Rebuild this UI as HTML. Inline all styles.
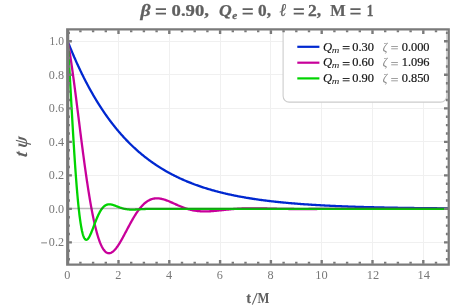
<!DOCTYPE html>
<html><head><meta charset="utf-8"><title>plot</title>
<style>html,body{margin:0;padding:0;background:#fff;}body{width:458px;height:305px;overflow:hidden;font-family:"Liberation Serif",serif;}</style></head>
<body>
<svg width="458" height="305" viewBox="0 0 458 305" style="display:block;will-change:transform" font-family="&quot;Liberation Serif&quot;, serif">
<rect width="458" height="305" fill="#ffffff"/>
<path d="M118.5,29.5 V264.6 M169.5,29.5 V264.6 M220.5,29.5 V264.6 M270.5,29.5 V264.6 M321.5,29.5 V264.6 M372.5,29.5 V264.6 M423.5,29.5 V264.6 M67.7,242.5 H448.5 M67.7,175.5 H448.5 M67.7,141.5 H448.5 M67.7,108.5 H448.5 M67.7,74.5 H448.5 M67.7,41.5 H448.5" stroke="#f0f0f0" stroke-width="1" fill="none"/>
<clipPath id="c"><rect x="67.7" y="29.5" width="380.8" height="235.10000000000002"/></clipPath>
<g clip-path="url(#c)" fill="none" stroke-width="2.3" stroke-linejoin="round" stroke-linecap="butt">
<path d="M67.70,41.30 L67.71,41.33 L67.74,41.41 L67.78,41.50 L67.83,41.62 L67.88,41.76 L67.94,41.91 L68.01,42.08 L68.08,42.26 L68.16,42.46 L68.24,42.68 L68.33,42.90 L68.43,43.14 L68.53,43.39 L68.63,43.65 L68.74,43.92 L68.85,44.21 L68.97,44.50 L69.09,44.80 L69.22,45.12 L69.35,45.44 L69.48,45.77 L69.62,46.11 L69.76,46.46 L69.91,46.82 L70.06,47.19 L70.21,47.56 L70.37,47.94 L70.53,48.33 L70.69,48.73 L70.86,49.13 L71.03,49.54 L71.20,49.96 L71.38,50.39 L71.56,50.82 L71.74,51.26 L71.93,51.70 L72.12,52.15 L72.31,52.61 L72.50,53.07 L72.70,53.54 L72.90,54.01 L73.11,54.49 L73.32,54.98 L73.53,55.47 L73.74,55.96 L73.96,56.46 L74.17,56.97 L74.40,57.48 L74.62,57.99 L74.85,58.51 L75.08,59.04 L75.31,59.56 L75.55,60.10 L75.79,60.63 L76.03,61.17 L76.27,61.72 L76.52,62.26 L76.76,62.82 L77.02,63.37 L77.27,63.93 L77.53,64.49 L77.79,65.06 L78.05,65.63 L78.31,66.20 L78.58,66.78 L78.85,67.35 L79.12,67.94 L79.39,68.52 L79.67,69.11 L79.95,69.70 L80.23,70.29 L80.51,70.88 L80.80,71.48 L81.09,72.08 L81.38,72.68 L81.67,73.28 L81.96,73.89 L82.26,74.50 L82.56,75.11 L82.86,75.72 L83.17,76.33 L83.48,76.94 L83.78,77.56 L84.10,78.18 L84.41,78.80 L84.72,79.42 L85.04,80.04 L85.36,80.67 L85.68,81.29 L86.01,81.92 L86.34,82.54 L86.66,83.17 L87.00,83.80 L87.33,84.43 L87.66,85.06 L88.00,85.69 L88.34,86.32 L88.68,86.96 L89.03,87.59 L89.37,88.23 L89.72,88.86 L90.07,89.49 L90.42,90.13 L90.77,90.77 L91.13,91.40 L91.49,92.04 L91.85,92.67 L92.21,93.31 L92.58,93.95 L92.94,94.58 L93.31,95.22 L93.68,95.85 L94.05,96.49 L94.43,97.13 L94.80,97.76 L95.18,98.40 L95.56,99.03 L95.94,99.66 L96.33,100.30 L96.71,100.93 L97.10,101.56 L97.49,102.20 L97.88,102.83 L98.27,103.46 L98.67,104.09 L99.07,104.72 L99.47,105.35 L99.87,105.98 L100.27,106.60 L100.68,107.23 L101.08,107.85 L101.49,108.48 L101.90,109.10 L102.31,109.72 L102.73,110.34 L103.14,110.96 L103.56,111.58 L103.98,112.20 L104.40,112.81 L104.83,113.43 L105.25,114.04 L105.68,114.65 L106.11,115.26 L106.54,115.87 L106.97,116.48 L107.41,117.09 L107.84,117.69 L108.28,118.30 L108.72,118.90 L109.16,119.50 L109.60,120.10 L110.05,120.69 L110.49,121.29 L110.94,121.88 L111.39,122.47 L111.85,123.06 L112.30,123.65 L112.75,124.24 L113.21,124.82 L113.67,125.40 L114.13,125.99 L114.59,126.56 L115.06,127.14 L115.52,127.72 L115.99,128.29 L116.46,128.86 L116.93,129.43 L117.40,130.00 L117.88,130.56 L118.35,131.13 L118.83,131.69 L119.31,132.25 L119.79,132.80 L120.27,133.36 L120.76,133.91 L121.24,134.46 L121.73,135.01 L122.22,135.55 L122.71,136.10 L123.20,136.64 L123.70,137.18 L124.19,137.71 L124.69,138.25 L125.19,138.78 L125.69,139.31 L126.19,139.84 L126.70,140.37 L127.20,140.89 L127.71,141.41 L128.22,141.93 L128.73,142.44 L129.24,142.96 L129.75,143.47 L130.27,143.98 L130.79,144.49 L131.31,144.99 L131.83,145.49 L132.35,145.99 L132.87,146.49 L133.39,146.98 L133.92,147.47 L134.45,147.96 L134.98,148.45 L135.51,148.94 L136.04,149.42 L136.58,149.90 L137.11,150.37 L137.65,150.85 L138.19,151.32 L138.73,151.79 L139.27,152.26 L139.81,152.72 L140.36,153.18 L140.91,153.64 L141.45,154.10 L142.00,154.56 L142.55,155.01 L143.11,155.46 L143.66,155.91 L144.22,156.35 L144.77,156.79 L145.33,157.23 L145.89,157.67 L146.46,158.10 L147.02,158.53 L147.58,158.96 L148.15,159.39 L148.72,159.81 L149.29,160.24 L149.86,160.66 L150.43,161.07 L151.00,161.49 L151.58,161.90 L152.16,162.31 L152.73,162.71 L153.31,163.12 L153.89,163.52 L154.48,163.92 L155.06,164.31 L155.65,164.71 L156.23,165.10 L156.82,165.49 L157.41,165.88 L158.00,166.26 L158.60,166.64 L159.19,167.02 L159.79,167.40 L160.38,167.77 L160.98,168.14 L161.58,168.51 L162.18,168.88 L162.79,169.24 L163.39,169.60 L164.00,169.96 L164.61,170.32 L165.21,170.67 L165.82,171.03 L166.44,171.38 L167.05,171.72 L167.66,172.07 L168.28,172.41 L168.90,172.75 L169.52,173.09 L170.14,173.42 L170.76,173.75 L171.38,174.08 L172.00,174.41 L172.63,174.74 L173.26,175.06 L173.89,175.38 L174.52,175.70 L175.15,176.02 L175.78,176.33 L176.41,176.64 L177.05,176.95 L177.69,177.26 L178.32,177.56 L178.96,177.87 L179.61,178.17 L180.25,178.46 L180.89,178.76 L181.54,179.05 L182.18,179.34 L182.83,179.63 L183.48,179.92 L184.13,180.20 L184.78,180.49 L185.44,180.77 L186.09,181.04 L186.75,181.32 L187.40,181.59 L188.06,181.86 L188.72,182.13 L189.39,182.40 L190.05,182.67 L190.71,182.93 L191.38,183.19 L192.05,183.45 L192.71,183.70 L193.38,183.96 L194.05,184.21 L194.73,184.46 L195.40,184.71 L196.08,184.96 L196.75,185.20 L197.43,185.44 L198.11,185.68 L198.79,185.92 L199.47,186.16 L200.15,186.39 L200.84,186.62 L201.52,186.85 L202.21,187.08 L202.90,187.31 L203.59,187.53 L204.28,187.76 L204.97,187.98 L205.66,188.19 L206.36,188.41 L207.06,188.63 L207.75,188.84 L208.45,189.05 L209.15,189.26 L209.85,189.47 L210.56,189.67 L211.26,189.88 L211.96,190.08 L212.67,190.28 L213.38,190.48 L214.09,190.68 L214.80,190.87 L215.51,191.07 L216.22,191.26 L216.94,191.45 L217.65,191.64 L218.37,191.82 L219.09,192.01 L219.81,192.19 L220.53,192.37 L221.25,192.55 L221.97,192.73 L222.70,192.91 L223.42,193.08 L224.15,193.25 L224.88,193.43 L225.61,193.60 L226.34,193.76 L227.07,193.93 L227.80,194.10 L228.54,194.26 L229.28,194.42 L230.01,194.58 L230.75,194.74 L231.49,194.90 L232.23,195.06 L232.97,195.21 L233.72,195.37 L234.46,195.52 L235.21,195.67 L235.95,195.82 L236.70,195.97 L237.45,196.11 L238.20,196.26 L238.96,196.40 L239.71,196.54 L240.46,196.68 L241.22,196.82 L241.98,196.96 L242.74,197.10 L243.49,197.23 L244.26,197.36 L245.02,197.50 L245.78,197.63 L246.55,197.76 L247.31,197.89 L248.08,198.01 L248.85,198.14 L249.62,198.26 L250.39,198.39 L251.16,198.51 L251.93,198.63 L252.71,198.75 L253.48,198.87 L254.26,198.99 L255.04,199.10 L255.81,199.22 L256.60,199.33 L257.38,199.44 L258.16,199.56 L258.94,199.67 L259.73,199.78 L260.51,199.88 L261.30,199.99 L262.09,200.10 L262.88,200.20 L263.67,200.31 L264.46,200.41 L265.26,200.51 L266.05,200.61 L266.85,200.71 L267.65,200.81 L268.44,200.91 L269.24,201.00 L270.05,201.10 L270.85,201.19 L271.65,201.28 L272.45,201.38 L273.26,201.47 L274.07,201.56 L274.87,201.65 L275.68,201.74 L276.49,201.82 L277.31,201.91 L278.12,202.00 L278.93,202.08 L279.75,202.16 L280.56,202.25 L281.38,202.33 L282.20,202.41 L283.02,202.49 L283.84,202.57 L284.66,202.65 L285.48,202.72 L286.31,202.80 L287.13,202.88 L287.96,202.95 L288.79,203.03 L289.62,203.10 L290.45,203.17 L291.28,203.24 L292.11,203.32 L292.95,203.39 L293.78,203.45 L294.62,203.52 L295.45,203.59 L296.29,203.66 L297.13,203.72 L297.97,203.79 L298.81,203.85 L299.66,203.92 L300.50,203.98 L301.35,204.04 L302.19,204.11 L303.04,204.17 L303.89,204.23 L304.74,204.29 L305.59,204.35 L306.44,204.41 L307.29,204.46 L308.15,204.52 L309.00,204.58 L309.86,204.63 L310.72,204.69 L311.58,204.74 L312.44,204.80 L313.30,204.85 L314.16,204.90 L315.02,204.95 L315.89,205.01 L316.76,205.06 L317.62,205.11 L318.49,205.16 L319.36,205.20 L320.23,205.25 L321.10,205.30 L321.97,205.35 L322.85,205.39 L323.72,205.44 L324.60,205.49 L325.47,205.53 L326.35,205.58 L327.23,205.62 L328.11,205.66 L328.99,205.71 L329.88,205.75 L330.76,205.79 L331.64,205.83 L332.53,205.87 L333.42,205.91 L334.31,205.95 L335.19,205.99 L336.08,206.03 L336.98,206.07 L337.87,206.11 L338.76,206.15 L339.66,206.18 L340.55,206.22 L341.45,206.26 L342.35,206.29 L343.25,206.33 L344.15,206.36 L345.05,206.40 L345.95,206.43 L346.86,206.46 L347.76,206.50 L348.67,206.53 L349.57,206.56 L350.48,206.59 L351.39,206.63 L352.30,206.66 L353.21,206.69 L354.12,206.72 L355.04,206.75 L355.95,206.78 L356.87,206.81 L357.78,206.84 L358.70,206.86 L359.62,206.89 L360.54,206.92 L361.46,206.95 L362.38,206.98 L363.31,207.00 L364.23,207.03 L365.16,207.05 L366.08,207.08 L367.01,207.11 L367.94,207.13 L368.87,207.16 L369.80,207.18 L370.73,207.20 L371.66,207.23 L372.60,207.25 L373.53,207.27 L374.47,207.30 L375.41,207.32 L376.35,207.34 L377.29,207.36 L378.23,207.39 L379.17,207.41 L380.11,207.43 L381.05,207.45 L382.00,207.47 L382.94,207.49 L383.89,207.51 L384.84,207.53 L385.79,207.55 L386.74,207.57 L387.69,207.59 L388.64,207.61 L389.59,207.63 L390.55,207.64 L391.50,207.66 L392.46,207.68 L393.42,207.70 L394.38,207.71 L395.34,207.73 L396.30,207.75 L397.26,207.77 L398.22,207.78 L399.18,207.80 L400.15,207.81 L401.12,207.83 L402.08,207.85 L403.05,207.86 L404.02,207.88 L404.99,207.89 L405.96,207.91 L406.93,207.92 L407.91,207.93 L408.88,207.95 L409.86,207.96 L410.83,207.98 L411.81,207.99 L412.79,208.00 L413.77,208.02 L414.75,208.03 L415.73,208.04 L416.71,208.06 L417.70,208.07 L418.68,208.08 L419.67,208.09 L420.65,208.10 L421.64,208.12 L422.63,208.13 L423.62,208.14 L424.61,208.15 L425.60,208.16 L426.60,208.17 L427.59,208.18 L428.58,208.19 L429.58,208.20 L430.58,208.22 L431.58,208.23 L432.57,208.24 L433.57,208.25 L434.58,208.26 L435.58,208.27 L436.58,208.27 L437.59,208.28 L438.59,208.29 L439.60,208.30 L440.60,208.31 L441.61,208.32 L442.62,208.33 L443.63,208.34 L444.64,208.35 L445.66,208.36 L446.67,208.36 L447.68,208.37 L448.70,208.38" stroke="#0028d0"/>
<path d="M67.70,41.30 L67.71,41.37 L67.74,41.51 L67.78,41.71 L67.83,41.94 L67.88,42.22 L67.94,42.54 L68.01,42.89 L68.08,43.28 L68.16,43.70 L68.24,44.16 L68.33,44.64 L68.43,45.16 L68.53,45.71 L68.63,46.29 L68.74,46.90 L68.85,47.55 L68.97,48.22 L69.09,48.93 L69.22,49.66 L69.35,50.43 L69.48,51.24 L69.62,52.07 L69.76,52.93 L69.91,53.83 L70.06,54.76 L70.21,55.72 L70.37,56.71 L70.53,57.74 L70.69,58.80 L70.86,59.89 L71.03,61.02 L71.20,62.18 L71.38,63.37 L71.56,64.59 L71.74,65.85 L71.93,67.14 L72.12,68.46 L72.31,69.82 L72.50,71.21 L72.70,72.63 L72.90,74.09 L73.11,75.57 L73.32,77.09 L73.53,78.65 L73.74,80.23 L73.96,81.85 L74.17,83.49 L74.40,85.17 L74.62,86.88 L74.85,88.62 L75.08,90.38 L75.31,92.18 L75.55,94.01 L75.79,95.86 L76.03,97.74 L76.27,99.65 L76.52,101.59 L76.76,103.55 L77.02,105.54 L77.27,107.55 L77.53,109.58 L77.79,111.64 L78.05,113.72 L78.31,115.82 L78.58,117.94 L78.85,120.08 L79.12,122.24 L79.39,124.41 L79.67,126.60 L79.95,128.81 L80.23,131.03 L80.51,133.27 L80.80,135.52 L81.09,137.78 L81.38,140.05 L81.67,142.33 L81.96,144.61 L82.26,146.90 L82.56,149.20 L82.86,151.50 L83.17,153.81 L83.48,156.12 L83.78,158.42 L84.10,160.73 L84.41,163.03 L84.72,165.33 L85.04,167.63 L85.36,169.92 L85.68,172.20 L86.01,174.47 L86.34,176.73 L86.66,178.99 L87.00,181.22 L87.33,183.45 L87.66,185.66 L88.00,187.85 L88.34,190.02 L88.68,192.18 L89.03,194.31 L89.37,196.43 L89.72,198.52 L90.07,200.58 L90.42,202.62 L90.77,204.63 L91.13,206.62 L91.49,208.57 L91.85,210.49 L92.21,212.39 L92.58,214.25 L92.94,216.07 L93.31,217.86 L93.68,219.62 L94.05,221.34 L94.43,223.02 L94.80,224.66 L95.18,226.26 L95.56,227.82 L95.94,229.34 L96.33,230.82 L96.71,232.25 L97.10,233.64 L97.49,234.99 L97.88,236.29 L98.27,237.55 L98.67,238.75 L99.07,239.92 L99.47,241.03 L99.87,242.10 L100.27,243.12 L100.68,244.09 L101.08,245.01 L101.49,245.88 L101.90,246.71 L102.31,247.48 L102.73,248.21 L103.14,248.88 L103.56,249.51 L103.98,250.09 L104.40,250.61 L104.83,251.09 L105.25,251.52 L105.68,251.90 L106.11,252.23 L106.54,252.52 L106.97,252.75 L107.41,252.94 L107.84,253.08 L108.28,253.18 L108.72,253.23 L109.16,253.23 L109.60,253.19 L110.05,253.11 L110.49,252.98 L110.94,252.81 L111.39,252.60 L111.85,252.35 L112.30,252.05 L112.75,251.72 L113.21,251.35 L113.67,250.95 L114.13,250.51 L114.59,250.03 L115.06,249.52 L115.52,248.97 L115.99,248.40 L116.46,247.79 L116.93,247.15 L117.40,246.49 L117.88,245.80 L118.35,245.08 L118.83,244.34 L119.31,243.58 L119.79,242.79 L120.27,241.98 L120.76,241.16 L121.24,240.31 L121.73,239.45 L122.22,238.58 L122.71,237.69 L123.20,236.78 L123.70,235.87 L124.19,234.94 L124.69,234.01 L125.19,233.07 L125.69,232.12 L126.19,231.17 L126.70,230.21 L127.20,229.26 L127.71,228.30 L128.22,227.34 L128.73,226.38 L129.24,225.43 L129.75,224.47 L130.27,223.53 L130.79,222.59 L131.31,221.65 L131.83,220.73 L132.35,219.81 L132.87,218.91 L133.39,218.01 L133.92,217.13 L134.45,216.26 L134.98,215.40 L135.51,214.56 L136.04,213.74 L136.58,212.93 L137.11,212.14 L137.65,211.37 L138.19,210.61 L138.73,209.88 L139.27,209.16 L139.81,208.47 L140.36,207.80 L140.91,207.15 L141.45,206.52 L142.00,205.91 L142.55,205.32 L143.11,204.76 L143.66,204.22 L144.22,203.71 L144.77,203.22 L145.33,202.75 L145.89,202.30 L146.46,201.88 L147.02,201.49 L147.58,201.12 L148.15,200.77 L148.72,200.45 L149.29,200.15 L149.86,199.87 L150.43,199.62 L151.00,199.39 L151.58,199.19 L152.16,199.01 L152.73,198.85 L153.31,198.71 L153.89,198.60 L154.48,198.50 L155.06,198.43 L155.65,198.38 L156.23,198.34 L156.82,198.33 L157.41,198.34 L158.00,198.36 L158.60,198.41 L159.19,198.47 L159.79,198.55 L160.38,198.64 L160.98,198.75 L161.58,198.87 L162.18,199.01 L162.79,199.17 L163.39,199.33 L164.00,199.51 L164.61,199.70 L165.21,199.90 L165.82,200.11 L166.44,200.33 L167.05,200.56 L167.66,200.80 L168.28,201.05 L168.90,201.30 L169.52,201.56 L170.14,201.82 L170.76,202.09 L171.38,202.36 L172.00,202.64 L172.63,202.92 L173.26,203.20 L173.89,203.49 L174.52,203.77 L175.15,204.06 L175.78,204.34 L176.41,204.63 L177.05,204.91 L177.69,205.19 L178.32,205.47 L178.96,205.75 L179.61,206.02 L180.25,206.29 L180.89,206.55 L181.54,206.81 L182.18,207.07 L182.83,207.32 L183.48,207.57 L184.13,207.81 L184.78,208.04 L185.44,208.26 L186.09,208.48 L186.75,208.70 L187.40,208.90 L188.06,209.10 L188.72,209.29 L189.39,209.47 L190.05,209.64 L190.71,209.81 L191.38,209.97 L192.05,210.12 L192.71,210.26 L193.38,210.39 L194.05,210.51 L194.73,210.63 L195.40,210.74 L196.08,210.84 L196.75,210.93 L197.43,211.01 L198.11,211.09 L198.79,211.15 L199.47,211.21 L200.15,211.26 L200.84,211.31 L201.52,211.34 L202.21,211.37 L202.90,211.39 L203.59,211.41 L204.28,211.42 L204.97,211.42 L205.66,211.41 L206.36,211.40 L207.06,211.39 L207.75,211.37 L208.45,211.34 L209.15,211.31 L209.85,211.27 L210.56,211.23 L211.26,211.18 L211.96,211.14 L212.67,211.08 L213.38,211.03 L214.09,210.97 L214.80,210.90 L215.51,210.84 L216.22,210.77 L216.94,210.70 L217.65,210.63 L218.37,210.56 L219.09,210.48 L219.81,210.40 L220.53,210.33 L221.25,210.25 L221.97,210.17 L222.70,210.09 L223.42,210.02 L224.15,209.94 L224.88,209.86 L225.61,209.78 L226.34,209.71 L227.07,209.63 L227.80,209.56 L228.54,209.49 L229.28,209.41 L230.01,209.35 L230.75,209.28 L231.49,209.21 L232.23,209.15 L232.97,209.08 L233.72,209.02 L234.46,208.96 L235.21,208.91 L235.95,208.86 L236.70,208.80 L237.45,208.76 L238.20,208.71 L238.96,208.67 L239.71,208.62 L240.46,208.59 L241.22,208.55 L241.98,208.52 L242.74,208.48 L243.49,208.46 L244.26,208.43 L245.02,208.41 L245.78,208.39 L246.55,208.37 L247.31,208.35 L248.08,208.34 L248.85,208.33 L249.62,208.32 L250.39,208.31 L251.16,208.30 L251.93,208.30 L252.71,208.30 L253.48,208.30 L254.26,208.30 L255.04,208.31 L255.81,208.31 L256.60,208.32 L257.38,208.33 L258.16,208.34 L258.94,208.35 L259.73,208.36 L260.51,208.38 L261.30,208.39 L262.09,208.41 L262.88,208.43 L263.67,208.44 L264.46,208.46 L265.26,208.48 L266.05,208.50 L266.85,208.52 L267.65,208.54 L268.44,208.56 L269.24,208.58 L270.05,208.60 L270.85,208.62 L271.65,208.64 L272.45,208.66 L273.26,208.68 L274.07,208.70 L274.87,208.72 L275.68,208.74 L276.49,208.76 L277.31,208.78 L278.12,208.80 L278.93,208.82 L279.75,208.83 L280.56,208.85 L281.38,208.87 L282.20,208.88 L283.02,208.90 L283.84,208.91 L284.66,208.92 L285.48,208.94 L286.31,208.95 L287.13,208.96 L287.96,208.97 L288.79,208.98 L289.62,208.99 L290.45,209.00 L291.28,209.00 L292.11,209.01 L292.95,209.02 L293.78,209.02 L294.62,209.03 L295.45,209.03 L296.29,209.04 L297.13,209.04 L297.97,209.04 L298.81,209.04 L299.66,209.04 L300.50,209.04 L301.35,209.04 L302.19,209.04 L303.04,209.04 L303.89,209.04 L304.74,209.04 L305.59,209.04 L306.44,209.03 L307.29,209.03 L308.15,209.03 L309.00,209.02 L309.86,209.02 L310.72,209.01 L311.58,209.01 L312.44,209.00 L313.30,209.00 L314.16,208.99 L315.02,208.99 L315.89,208.98 L316.76,208.98 L317.62,208.97 L318.49,208.97 L319.36,208.96 L320.23,208.96 L321.10,208.95 L321.97,208.95 L322.85,208.94 L323.72,208.94 L324.60,208.93 L325.47,208.93 L326.35,208.92 L327.23,208.92 L328.11,208.91 L328.99,208.91 L329.88,208.91 L330.76,208.90 L331.64,208.90 L332.53,208.89 L333.42,208.89 L334.31,208.89 L335.19,208.89 L336.08,208.88 L336.98,208.88 L337.87,208.88 L338.76,208.88 L339.66,208.87 L340.55,208.87 L341.45,208.87 L342.35,208.87 L343.25,208.87 L344.15,208.87 L345.05,208.87 L345.95,208.87 L346.86,208.87 L347.76,208.87 L348.67,208.87 L349.57,208.87 L350.48,208.87 L351.39,208.87 L352.30,208.87 L353.21,208.87 L354.12,208.87 L355.04,208.87 L355.95,208.87 L356.87,208.87 L357.78,208.87 L358.70,208.87 L359.62,208.87 L360.54,208.88 L361.46,208.88 L362.38,208.88 L363.31,208.88 L364.23,208.88 L365.16,208.88 L366.08,208.88 L367.01,208.88 L367.94,208.89 L368.87,208.89 L369.80,208.89 L370.73,208.89 L371.66,208.89 L372.60,208.89 L373.53,208.89 L374.47,208.89 L375.41,208.90 L376.35,208.90 L377.29,208.90 L378.23,208.90 L379.17,208.90 L380.11,208.90 L381.05,208.90 L382.00,208.90 L382.94,208.90 L383.89,208.90 L384.84,208.90 L385.79,208.91 L386.74,208.91 L387.69,208.91 L388.64,208.91 L389.59,208.91 L390.55,208.91 L391.50,208.91 L392.46,208.91 L393.42,208.91 L394.38,208.91 L395.34,208.91 L396.30,208.91 L397.26,208.91 L398.22,208.91 L399.18,208.91 L400.15,208.91 L401.12,208.91 L402.08,208.91 L403.05,208.91 L404.02,208.91 L404.99,208.91 L405.96,208.91 L406.93,208.91 L407.91,208.91 L408.88,208.91 L409.86,208.91 L410.83,208.91 L411.81,208.90 L412.79,208.90 L413.77,208.90 L414.75,208.90 L415.73,208.90 L416.71,208.90 L417.70,208.90 L418.68,208.90 L419.67,208.90 L420.65,208.90 L421.64,208.90 L422.63,208.90 L423.62,208.90 L424.61,208.90 L425.60,208.90 L426.60,208.90 L427.59,208.90 L428.58,208.90 L429.58,208.90 L430.58,208.90 L431.58,208.90 L432.57,208.90 L433.57,208.90 L434.58,208.90 L435.58,208.90 L436.58,208.90 L437.59,208.90 L438.59,208.90 L439.60,208.90 L440.60,208.90 L441.61,208.90 L442.62,208.90 L443.63,208.90 L444.64,208.90 L445.66,208.90 L446.67,208.90 L447.68,208.90 L448.70,208.90" stroke="#c8009a"/>
<path d="M67.70,41.30 L67.71,41.51 L67.74,41.93 L67.78,42.51 L67.83,43.22 L67.88,44.05 L67.94,45.00 L68.01,46.05 L68.08,47.21 L68.16,48.46 L68.24,49.81 L68.33,51.25 L68.43,52.79 L68.53,54.42 L68.63,56.14 L68.74,57.94 L68.85,59.84 L68.97,61.82 L69.09,63.89 L69.22,66.04 L69.35,68.27 L69.48,70.58 L69.62,72.98 L69.76,75.45 L69.91,77.99 L70.06,80.62 L70.21,83.31 L70.37,86.07 L70.53,88.90 L70.69,91.80 L70.86,94.75 L71.03,97.77 L71.20,100.84 L71.38,103.97 L71.56,107.14 L71.74,110.36 L71.93,113.62 L72.12,116.92 L72.31,120.26 L72.50,123.62 L72.70,127.02 L72.90,130.43 L73.11,133.86 L73.32,137.31 L73.53,140.76 L73.74,144.22 L73.96,147.67 L74.17,151.13 L74.40,154.57 L74.62,157.99 L74.85,161.40 L75.08,164.78 L75.31,168.14 L75.55,171.46 L75.79,174.74 L76.03,177.98 L76.27,181.17 L76.52,184.31 L76.76,187.39 L77.02,190.42 L77.27,193.37 L77.53,196.26 L77.79,199.08 L78.05,201.82 L78.31,204.49 L78.58,207.07 L78.85,209.56 L79.12,211.97 L79.39,214.28 L79.67,216.51 L79.95,218.63 L80.23,220.66 L80.51,222.59 L80.80,224.42 L81.09,226.14 L81.38,227.76 L81.67,229.28 L81.96,230.69 L82.26,232.00 L82.56,233.21 L82.86,234.30 L83.17,235.30 L83.48,236.19 L83.78,236.98 L84.10,237.67 L84.41,238.25 L84.72,238.74 L85.04,239.13 L85.36,239.43 L85.68,239.64 L86.01,239.76 L86.34,239.79 L86.66,239.73 L87.00,239.60 L87.33,239.39 L87.66,239.10 L88.00,238.74 L88.34,238.32 L88.68,237.83 L89.03,237.28 L89.37,236.67 L89.72,236.01 L90.07,235.30 L90.42,234.55 L90.77,233.76 L91.13,232.93 L91.49,232.06 L91.85,231.17 L92.21,230.25 L92.58,229.32 L92.94,228.36 L93.31,227.39 L93.68,226.41 L94.05,225.43 L94.43,224.44 L94.80,223.45 L95.18,222.46 L95.56,221.49 L95.94,220.52 L96.33,219.56 L96.71,218.62 L97.10,217.70 L97.49,216.80 L97.88,215.92 L98.27,215.06 L98.67,214.23 L99.07,213.43 L99.47,212.66 L99.87,211.92 L100.27,211.21 L100.68,210.54 L101.08,209.90 L101.49,209.29 L101.90,208.72 L102.31,208.19 L102.73,207.69 L103.14,207.23 L103.56,206.80 L103.98,206.41 L104.40,206.06 L104.83,205.74 L105.25,205.45 L105.68,205.20 L106.11,204.98 L106.54,204.80 L106.97,204.64 L107.41,204.52 L107.84,204.42 L108.28,204.35 L108.72,204.31 L109.16,204.29 L109.60,204.29 L110.05,204.32 L110.49,204.37 L110.94,204.43 L111.39,204.52 L111.85,204.62 L112.30,204.73 L112.75,204.86 L113.21,205.00 L113.67,205.15 L114.13,205.31 L114.59,205.48 L115.06,205.65 L115.52,205.83 L115.99,206.01 L116.46,206.20 L116.93,206.38 L117.40,206.57 L117.88,206.76 L118.35,206.94 L118.83,207.12 L119.31,207.30 L119.79,207.48 L120.27,207.65 L120.76,207.81 L121.24,207.97 L121.73,208.12 L122.22,208.27 L122.71,208.41 L123.20,208.54 L123.70,208.66 L124.19,208.78 L124.69,208.88 L125.19,208.98 L125.69,209.07 L126.19,209.16 L126.70,209.23 L127.20,209.30 L127.71,209.36 L128.22,209.41 L128.73,209.46 L129.24,209.49 L129.75,209.53 L130.27,209.55 L130.79,209.57 L131.31,209.58 L131.83,209.59 L132.35,209.59 L132.87,209.59 L133.39,209.58 L133.92,209.57 L134.45,209.55 L134.98,209.53 L135.51,209.51 L136.04,209.49 L136.58,209.46 L137.11,209.44 L137.65,209.41 L138.19,209.38 L138.73,209.35 L139.27,209.31 L139.81,209.28 L140.36,209.25 L140.91,209.22 L141.45,209.19 L142.00,209.16 L142.55,209.12 L143.11,209.10 L143.66,209.07 L144.22,209.04 L144.77,209.01 L145.33,208.99 L145.89,208.97 L146.46,208.94 L147.02,208.92 L147.58,208.91 L148.15,208.89 L148.72,208.87 L149.29,208.86 L149.86,208.85 L150.43,208.84 L151.00,208.83 L151.58,208.82 L152.16,208.81 L152.73,208.81 L153.31,208.80 L153.89,208.80 L154.48,208.80 L155.06,208.80 L155.65,208.80 L156.23,208.80 L156.82,208.80 L157.41,208.80 L158.00,208.81 L158.60,208.81 L159.19,208.81 L159.79,208.82 L160.38,208.82 L160.98,208.83 L161.58,208.83 L162.18,208.84 L162.79,208.84 L163.39,208.85 L164.00,208.85 L164.61,208.86 L165.21,208.86 L165.82,208.87 L166.44,208.87 L167.05,208.88 L167.66,208.88 L168.28,208.89 L168.90,208.89 L169.52,208.89 L170.14,208.90 L170.76,208.90 L171.38,208.90 L172.00,208.91 L172.63,208.91 L173.26,208.91 L173.89,208.91 L174.52,208.91 L175.15,208.91 L175.78,208.91 L176.41,208.91 L177.05,208.92 L177.69,208.92 L178.32,208.92 L178.96,208.92 L179.61,208.92 L180.25,208.91 L180.89,208.91 L181.54,208.91 L182.18,208.91 L182.83,208.91 L183.48,208.91 L184.13,208.91 L184.78,208.91 L185.44,208.91 L186.09,208.91 L186.75,208.91 L187.40,208.91 L188.06,208.91 L188.72,208.90 L189.39,208.90 L190.05,208.90 L190.71,208.90 L191.38,208.90 L192.05,208.90 L192.71,208.90 L193.38,208.90 L194.05,208.90 L194.73,208.90 L195.40,208.90 L196.08,208.90 L196.75,208.90 L197.43,208.90 L198.11,208.90 L198.79,208.90 L199.47,208.90 L200.15,208.90 L200.84,208.90 L201.52,208.90 L202.21,208.90 L202.90,208.90 L203.59,208.90 L204.28,208.90 L204.97,208.90 L205.66,208.90 L206.36,208.90 L207.06,208.90 L207.75,208.90 L208.45,208.90 L209.15,208.90 L209.85,208.90 L210.56,208.90 L211.26,208.90 L211.96,208.90 L212.67,208.90 L213.38,208.90 L214.09,208.90 L214.80,208.90 L215.51,208.90 L216.22,208.90 L216.94,208.90 L217.65,208.90 L218.37,208.90 L219.09,208.90 L219.81,208.90 L220.53,208.90 L221.25,208.90 L221.97,208.90 L222.70,208.90 L223.42,208.90 L224.15,208.90 L224.88,208.90 L225.61,208.90 L226.34,208.90 L227.07,208.90 L227.80,208.90 L228.54,208.90 L229.28,208.90 L230.01,208.90 L230.75,208.90 L231.49,208.90 L232.23,208.90 L232.97,208.90 L233.72,208.90 L234.46,208.90 L235.21,208.90 L235.95,208.90 L236.70,208.90 L237.45,208.90 L238.20,208.90 L238.96,208.90 L239.71,208.90 L240.46,208.90 L241.22,208.90 L241.98,208.90 L242.74,208.90 L243.49,208.90 L244.26,208.90 L245.02,208.90 L245.78,208.90 L246.55,208.90 L247.31,208.90 L248.08,208.90 L248.85,208.90 L249.62,208.90 L250.39,208.90 L251.16,208.90 L251.93,208.90 L252.71,208.90 L253.48,208.90 L254.26,208.90 L255.04,208.90 L255.81,208.90 L256.60,208.90 L257.38,208.90 L258.16,208.90 L258.94,208.90 L259.73,208.90 L260.51,208.90 L261.30,208.90 L262.09,208.90 L262.88,208.90 L263.67,208.90 L264.46,208.90 L265.26,208.90 L266.05,208.90 L266.85,208.90 L267.65,208.90 L268.44,208.90 L269.24,208.90 L270.05,208.90 L270.85,208.90 L271.65,208.90 L272.45,208.90 L273.26,208.90 L274.07,208.90 L274.87,208.90 L275.68,208.90 L276.49,208.90 L277.31,208.90 L278.12,208.90 L278.93,208.90 L279.75,208.90 L280.56,208.90 L281.38,208.90 L282.20,208.90 L283.02,208.90 L283.84,208.90 L284.66,208.90 L285.48,208.90 L286.31,208.90 L287.13,208.90 L287.96,208.90 L288.79,208.90 L289.62,208.90 L290.45,208.90 L291.28,208.90 L292.11,208.90 L292.95,208.90 L293.78,208.90 L294.62,208.90 L295.45,208.90 L296.29,208.90 L297.13,208.90 L297.97,208.90 L298.81,208.90 L299.66,208.90 L300.50,208.90 L301.35,208.90 L302.19,208.90 L303.04,208.90 L303.89,208.90 L304.74,208.90 L305.59,208.90 L306.44,208.90 L307.29,208.90 L308.15,208.90 L309.00,208.90 L309.86,208.90 L310.72,208.90 L311.58,208.90 L312.44,208.90 L313.30,208.90 L314.16,208.90 L315.02,208.90 L315.89,208.90 L316.76,208.90 L317.62,208.90 L318.49,208.90 L319.36,208.90 L320.23,208.90 L321.10,208.90 L321.97,208.90 L322.85,208.90 L323.72,208.90 L324.60,208.90 L325.47,208.90 L326.35,208.90 L327.23,208.90 L328.11,208.90 L328.99,208.90 L329.88,208.90 L330.76,208.90 L331.64,208.90 L332.53,208.90 L333.42,208.90 L334.31,208.90 L335.19,208.90 L336.08,208.90 L336.98,208.90 L337.87,208.90 L338.76,208.90 L339.66,208.90 L340.55,208.90 L341.45,208.90 L342.35,208.90 L343.25,208.90 L344.15,208.90 L345.05,208.90 L345.95,208.90 L346.86,208.90 L347.76,208.90 L348.67,208.90 L349.57,208.90 L350.48,208.90 L351.39,208.90 L352.30,208.90 L353.21,208.90 L354.12,208.90 L355.04,208.90 L355.95,208.90 L356.87,208.90 L357.78,208.90 L358.70,208.90 L359.62,208.90 L360.54,208.90 L361.46,208.90 L362.38,208.90 L363.31,208.90 L364.23,208.90 L365.16,208.90 L366.08,208.90 L367.01,208.90 L367.94,208.90 L368.87,208.90 L369.80,208.90 L370.73,208.90 L371.66,208.90 L372.60,208.90 L373.53,208.90 L374.47,208.90 L375.41,208.90 L376.35,208.90 L377.29,208.90 L378.23,208.90 L379.17,208.90 L380.11,208.90 L381.05,208.90 L382.00,208.90 L382.94,208.90 L383.89,208.90 L384.84,208.90 L385.79,208.90 L386.74,208.90 L387.69,208.90 L388.64,208.90 L389.59,208.90 L390.55,208.90 L391.50,208.90 L392.46,208.90 L393.42,208.90 L394.38,208.90 L395.34,208.90 L396.30,208.90 L397.26,208.90 L398.22,208.90 L399.18,208.90 L400.15,208.90 L401.12,208.90 L402.08,208.90 L403.05,208.90 L404.02,208.90 L404.99,208.90 L405.96,208.90 L406.93,208.90 L407.91,208.90 L408.88,208.90 L409.86,208.90 L410.83,208.90 L411.81,208.90 L412.79,208.90 L413.77,208.90 L414.75,208.90 L415.73,208.90 L416.71,208.90 L417.70,208.90 L418.68,208.90 L419.67,208.90 L420.65,208.90 L421.64,208.90 L422.63,208.90 L423.62,208.90 L424.61,208.90 L425.60,208.90 L426.60,208.90 L427.59,208.90 L428.58,208.90 L429.58,208.90 L430.58,208.90 L431.58,208.90 L432.57,208.90 L433.57,208.90 L434.58,208.90 L435.58,208.90 L436.58,208.90 L437.59,208.90 L438.59,208.90 L439.60,208.90 L440.60,208.90 L441.61,208.90 L442.62,208.90 L443.63,208.90 L444.64,208.90 L445.66,208.90 L446.67,208.90 L447.68,208.90 L448.70,208.90" stroke="#00d400"/>
</g>
<path d="M67.7,208.6 H448.5" stroke="#404040" stroke-opacity="0.36" stroke-width="1.5" fill="none"/>
<clipPath id="lc"><rect x="281.1" y="29.5" width="167.59999999999997" height="75.6"/></clipPath>
<rect clip-path="url(#lc)" x="283.1" y="20" width="163.59999999999997" height="82.1" rx="6" ry="6" fill="#ffffff" stroke="#cccccc" stroke-width="1.1"/>
<path d="M297.3,46.8 H319.4" stroke="#0028d0" stroke-width="2.2" fill="none"/>
<text stroke="#141414" stroke-width="0.15" transform="translate(322.90,50.50) scale(0.9695,1)" font-size="13" font-style="italic" fill="#141414">Q</text>
<text transform="translate(331.80,52.50) scale(1.1696,1)" font-size="9" font-style="italic" fill="#141414">m</text>
<path d="M342.7,46.50 H349.6 M342.7,48.80 H349.6" stroke="#141414" stroke-width="0.9" fill="none"/>
<text stroke="#141414" stroke-width="0.2" transform="translate(352.20,50.50) scale(0.9582,1)" font-size="13" fill="#141414">0.30</text>
<text transform="translate(382.70,50.50) scale(0.8850,1)" font-size="12.5" font-style="italic" fill="#808080">ζ</text>
<path d="M391.2,46.50 H397.9 M391.2,48.80 H397.9" stroke="#808080" stroke-width="0.75" fill="none"/>
<text stroke="#141414" stroke-width="0.2" transform="translate(401.70,50.50) scale(0.9538,1)" font-size="13" fill="#141414">0.000</text>
<path d="M297.3,62.7 H319.4" stroke="#c8009a" stroke-width="2.2" fill="none"/>
<text stroke="#141414" stroke-width="0.15" transform="translate(322.90,66.30) scale(0.9695,1)" font-size="13" font-style="italic" fill="#141414">Q</text>
<text transform="translate(331.80,68.30) scale(1.1696,1)" font-size="9" font-style="italic" fill="#141414">m</text>
<path d="M342.7,62.50 H349.6 M342.7,64.80 H349.6" stroke="#141414" stroke-width="0.9" fill="none"/>
<text stroke="#141414" stroke-width="0.2" transform="translate(352.20,66.30) scale(0.9582,1)" font-size="13" fill="#141414">0.60</text>
<text transform="translate(382.70,66.30) scale(0.8850,1)" font-size="12.5" font-style="italic" fill="#808080">ζ</text>
<path d="M391.2,62.50 H397.9 M391.2,64.80 H397.9" stroke="#808080" stroke-width="0.75" fill="none"/>
<text stroke="#141414" stroke-width="0.2" transform="translate(401.70,66.30) scale(0.9538,1)" font-size="13" fill="#141414">1.096</text>
<path d="M297.3,78.4 H319.4" stroke="#00d400" stroke-width="2.2" fill="none"/>
<text stroke="#141414" stroke-width="0.15" transform="translate(322.90,82.15) scale(0.9695,1)" font-size="13" font-style="italic" fill="#141414">Q</text>
<text transform="translate(331.80,84.15) scale(1.1696,1)" font-size="9" font-style="italic" fill="#141414">m</text>
<path d="M342.7,78.50 H349.6 M342.7,80.80 H349.6" stroke="#141414" stroke-width="0.9" fill="none"/>
<text stroke="#141414" stroke-width="0.2" transform="translate(352.20,82.15) scale(0.9582,1)" font-size="13" fill="#141414">0.90</text>
<text transform="translate(382.70,82.15) scale(0.8850,1)" font-size="12.5" font-style="italic" fill="#808080">ζ</text>
<path d="M391.2,78.50 H397.9 M391.2,80.80 H397.9" stroke="#808080" stroke-width="0.75" fill="none"/>
<text stroke="#141414" stroke-width="0.2" transform="translate(401.70,82.15) scale(0.9538,1)" font-size="13" fill="#141414">0.850</text>
<path d="M66.1,28.3 H449.85 V265.85 H66.1 Z M69.25,30.5 V263.55 H447.6 V30.5 Z" fill="#7a7a7a" fill-rule="evenodd" stroke="none"/>
<path d="M79.20,263.75 H81.60 V261.85 H79.20 Z M79.20,30.30 H81.60 V32.20 H79.20 Z M91.90,263.75 H94.30 V261.85 H91.90 Z M91.90,30.30 H94.30 V32.20 H91.90 Z M104.60,263.75 H107.00 V261.85 H104.60 Z M104.60,30.30 H107.00 V32.20 H104.60 Z M117.30,263.75 H119.70 V259.95 H117.30 Z M117.30,30.30 H119.70 V34.10 H117.30 Z M130.00,263.75 H132.40 V261.85 H130.00 Z M130.00,30.30 H132.40 V32.20 H130.00 Z M142.70,263.75 H145.10 V261.85 H142.70 Z M142.70,30.30 H145.10 V32.20 H142.70 Z M155.40,263.75 H157.80 V261.85 H155.40 Z M155.40,30.30 H157.80 V32.20 H155.40 Z M168.10,263.75 H170.50 V259.95 H168.10 Z M168.10,30.30 H170.50 V34.10 H168.10 Z M180.80,263.75 H183.20 V261.85 H180.80 Z M180.80,30.30 H183.20 V32.20 H180.80 Z M193.50,263.75 H195.90 V261.85 H193.50 Z M193.50,30.30 H195.90 V32.20 H193.50 Z M206.20,263.75 H208.60 V261.85 H206.20 Z M206.20,30.30 H208.60 V32.20 H206.20 Z M218.90,263.75 H221.30 V259.95 H218.90 Z M218.90,30.30 H221.30 V34.10 H218.90 Z M231.60,263.75 H234.00 V261.85 H231.60 Z M231.60,30.30 H234.00 V32.20 H231.60 Z M244.30,263.75 H246.70 V261.85 H244.30 Z M244.30,30.30 H246.70 V32.20 H244.30 Z M257.00,263.75 H259.40 V261.85 H257.00 Z M257.00,30.30 H259.40 V32.20 H257.00 Z M269.70,263.75 H272.10 V259.95 H269.70 Z M269.70,30.30 H272.10 V34.10 H269.70 Z M282.40,263.75 H284.80 V261.85 H282.40 Z M282.40,30.30 H284.80 V32.20 H282.40 Z M295.10,263.75 H297.50 V261.85 H295.10 Z M295.10,30.30 H297.50 V32.20 H295.10 Z M307.80,263.75 H310.20 V261.85 H307.80 Z M307.80,30.30 H310.20 V32.20 H307.80 Z M320.50,263.75 H322.90 V259.95 H320.50 Z M320.50,30.30 H322.90 V34.10 H320.50 Z M333.20,263.75 H335.60 V261.85 H333.20 Z M333.20,30.30 H335.60 V32.20 H333.20 Z M345.90,263.75 H348.30 V261.85 H345.90 Z M345.90,30.30 H348.30 V32.20 H345.90 Z M358.60,263.75 H361.00 V261.85 H358.60 Z M358.60,30.30 H361.00 V32.20 H358.60 Z M371.30,263.75 H373.70 V259.95 H371.30 Z M371.30,30.30 H373.70 V34.10 H371.30 Z M384.00,263.75 H386.40 V261.85 H384.00 Z M384.00,30.30 H386.40 V32.20 H384.00 Z M396.70,263.75 H399.10 V261.85 H396.70 Z M396.70,30.30 H399.10 V32.20 H396.70 Z M409.40,263.75 H411.80 V261.85 H409.40 Z M409.40,30.30 H411.80 V32.20 H409.40 Z M422.10,263.75 H424.50 V259.95 H422.10 Z M422.10,30.30 H424.50 V34.10 H422.10 Z M434.80,263.75 H437.20 V261.85 H434.80 Z M434.80,30.30 H437.20 V32.20 H434.80 Z M69.05,257.98 V260.38 H70.00 V257.98 Z M447.80,257.98 V260.38 H445.90 V257.98 Z M69.05,249.60 V252.00 H70.00 V249.60 Z M447.80,249.60 V252.00 H445.90 V249.60 Z M69.05,241.22 V243.62 H71.90 V241.22 Z M447.80,241.22 V243.62 H444.00 V241.22 Z M69.05,232.84 V235.24 H70.00 V232.84 Z M447.80,232.84 V235.24 H445.90 V232.84 Z M69.05,224.46 V226.86 H70.00 V224.46 Z M447.80,224.46 V226.86 H445.90 V224.46 Z M69.05,216.08 V218.48 H70.00 V216.08 Z M447.80,216.08 V218.48 H445.90 V216.08 Z M69.05,207.70 V210.10 H71.90 V207.70 Z M447.80,207.70 V210.10 H444.00 V207.70 Z M69.05,199.32 V201.72 H70.00 V199.32 Z M447.80,199.32 V201.72 H445.90 V199.32 Z M69.05,190.94 V193.34 H70.00 V190.94 Z M447.80,190.94 V193.34 H445.90 V190.94 Z M69.05,182.56 V184.96 H70.00 V182.56 Z M447.80,182.56 V184.96 H445.90 V182.56 Z M69.05,174.18 V176.58 H71.90 V174.18 Z M447.80,174.18 V176.58 H444.00 V174.18 Z M69.05,165.80 V168.20 H70.00 V165.80 Z M447.80,165.80 V168.20 H445.90 V165.80 Z M69.05,157.42 V159.82 H70.00 V157.42 Z M447.80,157.42 V159.82 H445.90 V157.42 Z M69.05,149.04 V151.44 H70.00 V149.04 Z M447.80,149.04 V151.44 H445.90 V149.04 Z M69.05,140.66 V143.06 H71.90 V140.66 Z M447.80,140.66 V143.06 H444.00 V140.66 Z M69.05,132.28 V134.68 H70.00 V132.28 Z M447.80,132.28 V134.68 H445.90 V132.28 Z M69.05,123.90 V126.30 H70.00 V123.90 Z M447.80,123.90 V126.30 H445.90 V123.90 Z M69.05,115.52 V117.92 H70.00 V115.52 Z M447.80,115.52 V117.92 H445.90 V115.52 Z M69.05,107.14 V109.54 H71.90 V107.14 Z M447.80,107.14 V109.54 H444.00 V107.14 Z M69.05,98.76 V101.16 H70.00 V98.76 Z M447.80,98.76 V101.16 H445.90 V98.76 Z M69.05,90.38 V92.78 H70.00 V90.38 Z M447.80,90.38 V92.78 H445.90 V90.38 Z M69.05,82.00 V84.40 H70.00 V82.00 Z M447.80,82.00 V84.40 H445.90 V82.00 Z M69.05,73.62 V76.02 H71.90 V73.62 Z M447.80,73.62 V76.02 H444.00 V73.62 Z M69.05,65.24 V67.64 H70.00 V65.24 Z M447.80,65.24 V67.64 H445.90 V65.24 Z M69.05,56.86 V59.26 H70.00 V56.86 Z M447.80,56.86 V59.26 H445.90 V56.86 Z M69.05,48.48 V50.88 H70.00 V48.48 Z M447.80,48.48 V50.88 H445.90 V48.48 Z M69.05,40.10 V42.50 H71.90 V40.10 Z M447.80,40.10 V42.50 H444.00 V40.10 Z M69.05,31.72 V34.12 H70.00 V31.72 Z M447.80,31.72 V34.12 H445.90 V31.72 Z" fill="#7a7a7a" stroke="none"/>
<text transform="translate(48.80,246.27) scale(0.9354,1)" font-size="13" fill="#777777">0.2</text>
<path d="M41.2,242.87 h5.8" stroke="#777777" stroke-width="0.9"/>
<text transform="translate(48.80,212.75) scale(0.9354,1)" font-size="13" fill="#777777">0.0</text>
<text transform="translate(48.80,179.23) scale(0.9354,1)" font-size="13" fill="#777777">0.2</text>
<text transform="translate(48.80,145.71) scale(0.9354,1)" font-size="13" fill="#777777">0.4</text>
<text transform="translate(48.80,112.19) scale(0.9354,1)" font-size="13" fill="#777777">0.6</text>
<text transform="translate(48.80,78.67) scale(0.9354,1)" font-size="13" fill="#777777">0.8</text>
<text transform="translate(49.50,45.15) scale(0.8862,1)" font-size="13" fill="#777777">1.0</text>
<text transform="translate(64.35,279.10) scale(0.9385,1)" font-size="13" fill="#777777">0</text>
<text transform="translate(115.15,279.10) scale(0.9385,1)" font-size="13" fill="#777777">2</text>
<text transform="translate(165.95,279.10) scale(0.9385,1)" font-size="13" fill="#777777">4</text>
<text transform="translate(216.75,279.10) scale(0.9385,1)" font-size="13" fill="#777777">6</text>
<text transform="translate(267.55,279.10) scale(0.9385,1)" font-size="13" fill="#777777">8</text>
<text transform="translate(315.30,279.10) scale(0.9538,1)" font-size="13" fill="#777777">10</text>
<text transform="translate(366.80,279.10) scale(0.9538,1)" font-size="13" fill="#777777">12</text>
<text transform="translate(417.60,279.10) scale(0.9538,1)" font-size="13" fill="#777777">14</text>
<text stroke="#606060" stroke-width="0.25" transform="translate(140.51,15.90) scale(1.1871,1)" font-size="16.6" font-style="italic" font-weight="bold" fill="#606060">β</text>
<text stroke="#606060" stroke-width="0.25" transform="translate(171.60,15.90) scale(1.1265,1)" font-size="16.6" font-weight="bold" fill="#606060">0.90,</text>
<text stroke="#606060" stroke-width="0.25" transform="translate(218.90,15.90) scale(1.0051,1)" font-size="17.5" font-style="italic" font-weight="bold" fill="#606060">Q</text>
<text stroke="#606060" stroke-width="0.25" transform="translate(232.20,18.90) scale(1.0725,1)" font-size="10.5" font-style="italic" font-weight="bold" fill="#606060">e</text>
<text stroke="#606060" stroke-width="0.25" transform="translate(258.00,15.90) scale(1.0442,1)" font-size="16.6" font-weight="bold" fill="#606060">0,</text>
<text stroke="#606060" stroke-width="0.25" transform="translate(279.70,15.90) scale(0.8717,1)" font-size="18" font-style="italic" font-weight="bold" fill="#606060">ℓ</text>
<text stroke="#606060" stroke-width="0.25" transform="translate(307.90,15.90) scale(1.0602,1)" font-size="16.6" font-weight="bold" fill="#606060">2,</text>
<text stroke="#606060" stroke-width="0.25" transform="translate(330.20,15.90) scale(0.9376,1)" font-size="17.4" font-weight="bold" fill="#606060">M</text>
<text stroke="#606060" stroke-width="0.25" transform="translate(366.80,15.90) scale(0.8072,1)" font-size="16.6" font-weight="bold" fill="#606060">1</text>
<path d="M155.80,9.1 h10.2 M155.80,13.55 h10.2" stroke="#606060" stroke-width="1.65" fill="none"/>
<path d="M242.60,9.1 h10.2 M242.60,13.55 h10.2" stroke="#606060" stroke-width="1.65" fill="none"/>
<path d="M293.70,9.1 h10.2 M293.70,13.55 h10.2" stroke="#606060" stroke-width="1.65" fill="none"/>
<path d="M350.40,9.1 h10.2 M350.40,13.55 h10.2" stroke="#606060" stroke-width="1.65" fill="none"/>
<text stroke="#606060" stroke-width="0.3" transform="translate(246.50,302.90) scale(0.8609,1)" font-size="15" font-weight="bold" fill="#606060">t</text>
<path d="M252.3,304.6 L257.2,293.0" stroke="#606060" stroke-width="1.1" fill="none"/>
<text transform="translate(257.50,302.90) scale(0.8877,1)" font-size="14.2" font-weight="bold" fill="#606060">M</text>
<g transform="translate(27.0,0) rotate(-90)">
<text transform="translate(-157.60,0.00) scale(1.0169,1) skewX(-7)" font-size="18.5" font-style="italic" font-weight="bold" fill="#606060">t</text>
<text transform="translate(-147.90,0.00) scale(0.9049,1) skewX(-7)" font-size="18.5" font-style="italic" font-weight="bold" fill="#606060">ψ</text>
</g>
</svg>
</body></html>
